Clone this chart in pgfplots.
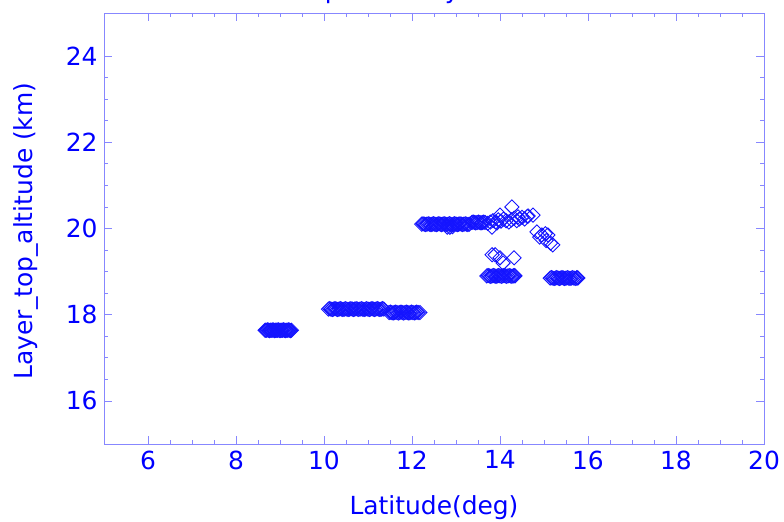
\documentclass[border=0pt]{standalone}
\usepackage{fontspec}
\setmainfont{DejaVu Sans}
\usepackage{pgfplots}
\usepackage{pgfplotstable}
\pgfplotsset{compat=1.18}
\definecolor{txt}{RGB}{0,0,255}
\definecolor{axc}{RGB}{135,135,255}
\definecolor{mk}{RGB}{20,20,255}
\pgfplotstableread{
x y
8.66 17.64
8.70 17.64
8.74 17.64
8.78 17.64
8.82 17.64
8.86 17.64
8.90 17.64
8.94 17.64
8.98 17.64
9.02 17.64
9.06 17.64
9.10 17.64
9.14 17.64
9.18 17.64
9.22 17.64
9.26 17.64
10.10 18.13
10.16 18.13
10.22 18.13
10.28 18.13
10.34 18.13
10.40 18.13
10.46 18.13
10.52 18.13
10.58 18.13
10.64 18.13
10.70 18.13
10.76 18.13
10.82 18.13
10.88 18.13
10.94 18.13
11.00 18.13
11.06 18.13
11.12 18.13
11.18 18.13
11.24 18.13
11.30 18.13
11.36 18.13
11.48 18.05
11.54 18.05
11.60 18.05
11.66 18.05
11.72 18.05
11.78 18.05
11.84 18.05
11.90 18.05
11.96 18.05
12.02 18.05
12.08 18.05
12.14 18.05
12.18 18.05
12.22 20.10
12.28 20.10
12.34 20.10
12.40 20.10
12.46 20.10
12.52 20.10
12.58 20.10
12.64 20.10
12.70 20.10
12.76 20.10
12.82 20.10
12.88 20.10
12.94 20.10
13.00 20.10
13.06 20.10
13.12 20.10
13.18 20.10
13.24 20.10
13.30 20.10
12.80 20.03
12.86 20.03
12.92 20.04
13.36 20.14
13.42 20.14
13.48 20.14
13.54 20.14
13.60 20.14
13.66 20.14
13.72 20.12
13.78 20.15
13.84 20.18
13.90 20.15
13.96 20.20
14.02 20.17
14.08 20.22
14.14 20.18
14.20 20.15
14.26 20.20
14.32 20.24
14.38 20.18
14.44 20.22
14.50 20.26
14.56 20.22
14.62 20.28
14.00 20.31
14.27 20.50
14.41 20.27
14.64 20.29
14.75 20.31
13.93 20.13
13.82 20.03
14.84 19.92
14.90 19.80
14.95 19.85
15.03 19.88
15.09 19.85
15.05 19.72
15.15 19.66
15.20 19.62
13.82 19.39
13.89 19.39
14.00 19.32
14.07 19.20
14.32 19.32
13.70 18.90
13.76 18.90
13.82 18.90
13.88 18.90
13.94 18.90
14.00 18.90
14.06 18.90
14.12 18.90
14.18 18.90
14.24 18.90
14.30 18.90
14.34 18.90
15.14 18.85
15.20 18.85
15.26 18.85
15.32 18.85
15.38 18.85
15.44 18.85
15.50 18.85
15.56 18.85
15.62 18.85
15.68 18.85
15.74 18.85
15.77 18.85
}\pts
\pgfplotstableread{
x y
8.68 17.64
8.72 17.65
8.76 17.63
8.80 17.64
8.84 17.65
8.88 17.63
8.92 17.64
8.96 17.65
9.00 17.63
9.04 17.64
9.08 17.65
9.12 17.63
9.16 17.64
9.20 17.65
9.24 17.63
10.13 18.14
10.19 18.12
10.25 18.14
10.31 18.12
10.37 18.14
10.43 18.12
10.49 18.14
10.55 18.12
10.61 18.14
10.67 18.12
10.73 18.14
10.79 18.12
10.85 18.14
10.91 18.12
10.97 18.14
11.03 18.12
11.09 18.14
11.15 18.12
11.21 18.14
11.27 18.12
11.33 18.14
11.51 18.06
11.57 18.04
11.63 18.06
11.69 18.04
11.75 18.06
11.81 18.04
11.87 18.06
11.93 18.04
11.99 18.06
12.05 18.04
12.11 18.06
12.25 20.11
12.31 20.09
12.37 20.11
12.43 20.09
12.49 20.11
12.55 20.09
12.61 20.11
12.67 20.09
12.73 20.11
12.79 20.09
12.85 20.11
12.91 20.09
12.97 20.11
13.03 20.09
13.09 20.11
13.15 20.09
13.21 20.11
13.27 20.09
13.39 20.15
13.45 20.13
13.51 20.15
13.57 20.13
13.63 20.15
13.73 18.91
13.79 18.89
13.85 18.91
13.91 18.89
13.97 18.91
14.03 18.89
14.09 18.91
14.15 18.89
14.21 18.91
14.27 18.89
14.32 18.91
15.17 18.86
15.23 18.84
15.29 18.86
15.35 18.84
15.41 18.86
15.47 18.84
15.53 18.86
15.59 18.84
15.65 18.86
15.71 18.84
15.75 18.86
}\dense
\begin{document}
\begin{tikzpicture}
\begin{axis}[
  at={(0,0)}, anchor=south west,
  scale only axis, width=660bp, height=431bp,
  xmin=5, xmax=20, ymin=15, ymax=25,
  xtick={6,8,...,20}, ytick={16,18,...,24},
  minor x tick num=3, minor y tick num=3,
  tick align=inside, tick pos=both,
  xticklabel pos=bottom, yticklabel pos=left,
  axis line style={draw=axc, line width=0.8bp},
  every tick/.style={draw=axc, line width=0.8bp},
  major tick length=8bp, minor tick length=4bp,
  ticklabel style={font=\fontsize{25}{30}\selectfont, text=txt},
  /pgf/number format/assume math mode=true,
  xticklabel style={yshift=-3bp},
  yticklabel style={xshift=-3bp},
  clip=false,
]
\addplot[only marks, mark=square, mark size=5bp, mark options={rotate=45, draw=mk, line width=0.9bp}] table[x=x,y=y] {\pts};
\addplot[only marks, mark=square, mark size=5bp, mark options={rotate=45, draw=mk, line width=0.9bp}] table[x=x,y=y] {\dense};
\end{axis}
\node[anchor=base, text=txt, font=\fontsize{25}{30}\selectfont] at (330bp,-70bp) {Latitude(deg)};
\node[anchor=base, rotate=90, text=txt, font=\fontsize{25}{30}\selectfont] at (-71bp,213bp) {Layer\_top\_altitude (km)};
\node[anchor=base west, inner sep=0pt, text=txt, font=\fontsize{25}{30}\selectfont] at (123bp,445bp) {Scatter plot for layer};
\pgfresetboundingbox
\useasboundingbox (-104bp,-78bp) rectangle (680bp,444bp);
\end{tikzpicture}
\end{document}
